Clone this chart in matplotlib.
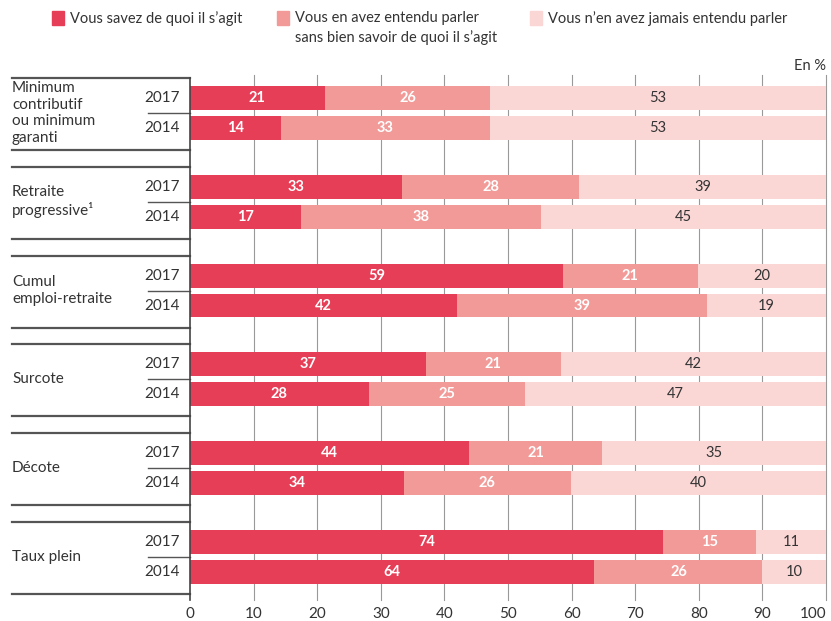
import numpy as np
import matplotlib
matplotlib.use("Agg")
import matplotlib.pyplot as plt
from matplotlib.patches import Rectangle

plt.rcParams['font.family'] = ['Lato', 'DejaVu Sans']

# data (en %)
groups = ["Minimum\ncontributif\nou minimum\ngaranti", "Retraite\nprogressive\u00b9",
          "Cumul\nemploi-retraite", "Surcote", "D\u00e9cote", "Taux plein"]
years = ["2017", "2014"]
savez = [[21.2, 14.3], [33.4, 17.4], [58.6, 42.0], [37.1, 28.1], [43.9, 33.6], [74.4, 63.6]]
entendu = [[26.0, 32.9], [27.8, 37.8], [21.3, 39.3], [21.2, 24.6], [20.9, 26.3], [14.6, 26.4]]
jamais = [[52.8, 52.8], [38.8, 44.8], [20.1, 18.7], [41.7, 47.3], [35.2, 40.1], [11.0, 10.0]]
legend_labels = ["Vous savez de quoi il s\u2019agit",
                 "Vous en avez entendu parler\nsans bien savoir de quoi il s\u2019agit",
                 "Vous n\u2019en avez jamais entendu parler"]

colors = ["#e63e57", "#f29a98", "#fad6d5"]
txt_colors = ["white", "white", "#333333"]
line_col = "#555555"
grid_col = "#999999"

W, H = 831, 621
fig = plt.figure(figsize=(W / 100, H / 100), dpi=100)
ax = fig.add_axes([190 / W, 1 - 594 / H, 636 / W, 516 / H])

gstep = 2.97
top_pad, bot_pad = 0.67, 0.74
n = len(groups)
ax.set_xlim(0, 100)
ax.set_ylim(gstep * (n - 1) + 1 + bot_pad, -top_pad)

series = [savez, entendu, jamais]
for g in range(n):
    for k in range(2):
        y = g * gstep + k
        left = 0
        for s in range(3):
            v = series[s][g][k]
            ax.barh(y, v, left=left, height=0.8, color=colors[s], zorder=2)
            ax.text(left + v / 2, y, f"{v:.0f}", ha="center", va="center",
                    color=txt_colors[s], fontsize=10.5,
                    fontweight="bold" if s < 2 else "normal", zorder=3)
            left += v
        ax.text(-0.016, y, years[k], transform=ax.get_yaxis_transform(),
                ha="right", va="center", fontsize=11, color="#333333")
    # label area lines
    yt = ax.get_yaxis_transform()
    x0 = (12 - 190) / 636
    ax.plot([x0, 0], [g * gstep - top_pad] * 2, transform=yt, color=line_col,
            lw=1.6, clip_on=False)
    ax.plot([x0, 0], [g * gstep + 1 + bot_pad] * 2, transform=yt, color=line_col,
            lw=1.6, clip_on=False)
    ax.plot([(148 - 190) / 636, 0], [g * gstep + 0.5] * 2, transform=yt,
            color=line_col, lw=1.0, clip_on=False)
    ax.text(x0, g * gstep + 0.5, groups[g], transform=yt, ha="left", va="center",
            fontsize=11, color="#333333", linespacing=1.22)

# grid
xt = ax.get_xaxis_transform()
for x in range(10, 101, 10):
    ax.plot([x, x], [-0.012, 1.006], transform=xt, color=grid_col, lw=0.8,
            zorder=1, clip_on=False)
ax.plot([0, 0], [-0.012, 1.0], transform=xt, color="#444444", lw=1.2,
        zorder=4, clip_on=False)

ax.set_xticks(range(0, 101, 10))
ax.tick_params(axis="x", length=0, pad=9, labelsize=11, labelcolor="#333333")
last = ax.get_xticklabels()[-1]
last.set_ha("right")
last.set_x(100)
ax.set_yticks([])
for sp in ax.spines.values():
    sp.set_visible(False)

fig.text(826 / W, 1 - 66 / H, "En %", ha="right", va="center", fontsize=10.5,
         color="#333333")

# legend
leg_x = [52, 277, 530]
for i in range(3):
    fig.patches.append(Rectangle((leg_x[i] / W, 1 - 25 / H), 12 / W, 14 / H,
                                 transform=fig.transFigure, color=colors[i]))
    fig.text((leg_x[i] + 18) / W, 1 - 11 / H, legend_labels[i], ha="left",
             va="top", fontsize=10.5, color="#333333", linespacing=1.4)

fig.savefig("out.png", dpi=100)
